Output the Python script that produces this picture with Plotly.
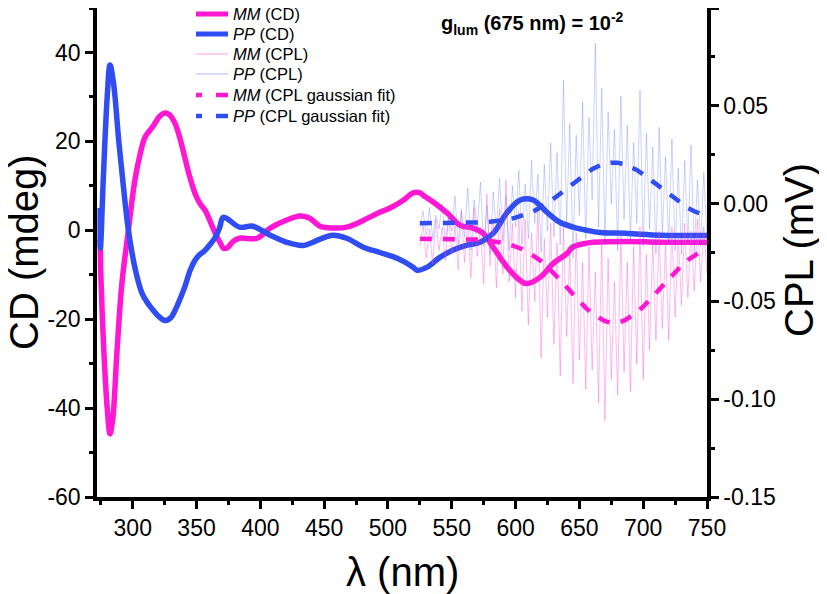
import numpy as np
import plotly.graph_objects as go

# ---------------- data ----------------
# CD spectra (mdeg) vs wavelength (nm)
wl_pp_cd = [274.5, 274.7, 277, 280, 282.2, 285, 289, 293, 296.3, 301.7, 307.3, 312, 316, 320,
            325.3, 330, 333.2, 337, 340.7, 345, 348.7, 352, 356.7, 360.5, 364.7, 368, 370.7, 374,
            383.7, 394.3, 407.7, 420.7, 433.5, 446.7, 456.7, 467.7, 480.7, 493.7, 507.2, 519.7,
            522.7, 530.7, 540.7, 550.7, 561.3, 572.2, 582.4, 593.4, 603.7, 613.7, 624.7, 634.7,
            645.1, 655.7, 666.2, 687.4, 713.3, 750]
cd_pp = [5, -4, 12, 30, 37.2, 33, 20.3, 9, 0.7, -8.4, -14.2, -16.5, -18, -19.3,
         -20.3, -19.6, -18, -15.5, -12.8, -9, -6.8, -5.6, -4.5, -3.2, -1.6, 0.5, 2.9, 2.6,
         0.7, 0.9, -1.1, -2.7, -3.4, -2, -1.1, -1.8, -3.8, -5, -6.3, -8.3,
         -9, -8.3, -6.1, -4.5, -3.4, -2.7, -0.7, 4, 6.8, 6.8, 4, 1.8,
         0.7, 0, -0.5, -0.7, -1.1, -1.2]

wl_mm_cd = [274.5, 275, 277.5, 280, 282.2, 284.5, 287.5, 291.5, 296.3, 301.7, 305.7, 309.7, 315.7,
            320.7, 325.3, 328.7, 333.2, 336.7, 340.7, 344.7, 348.7, 352.7, 356.7, 360.7, 364.7,
            368.7, 371, 374, 378.7, 383.7, 397.4, 407.7, 420.7, 431.1, 438.7, 446.7, 456.7, 467.7,
            477.7, 491.5, 501.7, 512.3, 519.7, 525.2, 527.5, 535.7, 546.7, 556.7, 566.7, 574.7,
            582.4, 593.4, 603.7, 608.7, 619.2, 629.7, 640.4, 644.7, 655.7, 660.7, 687.4, 713.3, 750]
cd_mm = [-2, -10, -28, -40, -45.8, -42, -28, -12, -0.7, 11.3, 17, 21, 23.3,
         25.5, 26.4, 26, 24, 21, 16.5, 12, 8.4, 6, 4.5, 2, -0.7,
         -2.9, -4, -4, -2.5, -1.8, -1.8, 0.5, 2.3, 3.2, 2.7, 0.9, 0.5, 0.7,
         1.8, 3.8, 5, 6.8, 8.4, 8.4, 7.9, 6.3, 3.8, 1.1, 0.5, -0.7,
         -3.8, -8.3, -11.3, -12, -10.6, -7.4, -5.2, -3.8, -2.9, -2.7, -2.5, -2.7, -2.7]

# CPL raw spectra (mV), 525-750 nm every 2.5 nm
wl_cpl = np.arange(525, 750.1, 2.5)
cpl_pp = [-0.012, -0.004, -0.016, -0.002, -0.018, -0.006, -0.013, 0.000, -0.019, -0.007,
          -0.014, 0.004, -0.021, -0.003, -0.017, 0.008, -0.024, 0.002, -0.013, 0.011,
          -0.022, -0.001, -0.026, 0.006, -0.015, 0.013, -0.019, 0.004, -0.024, 0.009,
          -0.012, 0.017, -0.021, 0.010, -0.018, 0.022, -0.010, 0.015, -0.025, 0.020,
          -0.014, 0.031, -0.017, 0.026, -0.021, 0.063, -0.010, 0.041, -0.028, 0.035,
          -0.006, 0.052, -0.018, 0.044, 0.002, 0.082, -0.012, 0.059, -0.020, 0.047,
          0.000, 0.038, -0.024, 0.055, -0.008, 0.040, -0.019, 0.031, -0.010, 0.058,
          -0.022, 0.036, -0.013, 0.029, -0.026, 0.039, -0.016, 0.024, -0.021, 0.033,
          -0.024, 0.018, -0.026, 0.022, -0.020, 0.030, -0.025, 0.012, -0.022, 0.016,
          -0.018]
cpl_mm = [-0.022, -0.010, -0.028, -0.013, -0.031, -0.008, -0.024, -0.012, -0.029, -0.006,
          -0.026, -0.011, -0.034, -0.004, -0.030, -0.009, -0.038, -0.002, -0.027, -0.012,
          -0.041, 0.005, -0.032, -0.008, -0.043, -0.003, -0.036, 0.012, -0.040, -0.010,
          -0.048, -0.004, -0.055, -0.008, -0.062, -0.015, -0.050, -0.002, -0.079, -0.018,
          -0.058, -0.010, -0.072, -0.020, -0.088, -0.012, -0.068, -0.025, -0.092, -0.015,
          -0.080, -0.030, -0.095, -0.022, -0.085, -0.035, -0.102, -0.018, -0.111, -0.028,
          -0.090, -0.040, -0.098, -0.016, -0.086, -0.030, -0.096, -0.022, -0.082, -0.012,
          -0.090, -0.026, -0.075, -0.018, -0.070, -0.014, -0.064, -0.020, -0.070, -0.012,
          -0.058, -0.016, -0.052, -0.010, -0.048, -0.014, -0.045, -0.008, -0.040, -0.012,
          -0.036]

# CPL gaussian fits (mV), 525-750 nm every 5 nm
wl_fit = np.arange(525, 750.1, 5)
fit_pp = [-0.0100, -0.0100, -0.0100, -0.0100, -0.0100, -0.0100, -0.0099, -0.0099, -0.0098, -0.0097,
          -0.0096, -0.0093, -0.0090, -0.0086, -0.0080, -0.0072, -0.0062, -0.0050, -0.0036, -0.0018,
          0.0003, 0.0026, 0.0051, 0.0077, 0.0104, 0.0130, 0.0155, 0.0176, 0.0192, 0.0204,
          0.0209, 0.0209, 0.0202, 0.0189, 0.0172, 0.0150, 0.0125, 0.0099, 0.0072, 0.0046,
          0.0021, -0.0001, -0.0022, -0.0039, -0.0053, -0.0065]
fit_mm = [-0.0180, -0.0180, -0.0180, -0.0180, -0.0180, -0.0181, -0.0181, -0.0182, -0.0183, -0.0184,
          -0.0186, -0.0189, -0.0194, -0.0200, -0.0208, -0.0218, -0.0232, -0.0249, -0.0269, -0.0294,
          -0.0323, -0.0355, -0.0389, -0.0426, -0.0463, -0.0500, -0.0533, -0.0562, -0.0585, -0.0601,
          -0.0609, -0.0608, -0.0599, -0.0581, -0.0557, -0.0527, -0.0492, -0.0456, -0.0419, -0.0382,
          -0.0348, -0.0317, -0.0289, -0.0265, -0.0245, -0.0229]

# axis ticks
x_ticks = [300, 350, 400, 450, 500, 550, 600, 650, 700, 750]
cd_ticks = [-60, -40, -20, 0, 20, 40]
cd_ticktext = ["-60", "-40", "-20", "0", "20", "40"]
cpl_ticks = [-0.15, -0.10, -0.05, 0.0, 0.05, 0.10]
cpl_ticktext = ["-0.15", "-0.10", "-0.05", "0.00", "0.05", "0.10"]

legend_labels = ["<i>MM</i> (CD)", "<i>PP</i> (CD)", "<i>MM</i> (CPL)", "<i>PP</i> (CPL)",
                 "<i>MM</i> (CPL gaussian fit)", "<i>PP</i> (CPL gaussian fit)"]

# ---------------- styles ----------------
MAG = "#FF17D3"
BLUE = "#2F4DF2"
MAG_L = "rgba(255,60,215,0.45)"
BLUE_L = "rgba(70,90,240,0.35)"
FONT = "Liberation Sans, Arial, sans-serif"

fig = go.Figure()
fig.add_trace(go.Scatter(x=wl_cpl, y=cpl_mm, yaxis="y2", mode="lines",
                         line=dict(color=MAG_L, width=0.8), showlegend=False))
fig.add_trace(go.Scatter(x=wl_cpl, y=cpl_pp, yaxis="y2", mode="lines",
                         line=dict(color=BLUE_L, width=0.8), showlegend=False))
fig.add_trace(go.Scatter(x=wl_mm_cd, y=cd_mm, mode="lines", line_shape="spline",
                         line=dict(color=MAG, width=5.5), showlegend=False))
fig.add_trace(go.Scatter(x=wl_pp_cd, y=cd_pp, mode="lines", line_shape="spline",
                         line=dict(color=BLUE, width=5.5), showlegend=False))
fig.add_trace(go.Scatter(x=wl_fit, y=fit_mm, yaxis="y2", mode="lines",
                         line=dict(color=MAG, width=4.5, dash="12px,11px"), showlegend=False))
fig.add_trace(go.Scatter(x=wl_fit, y=fit_pp, yaxis="y2", mode="lines",
                         line=dict(color=BLUE, width=4.5, dash="12px,11px"), showlegend=False))

# page body has an 8px margin: figure pixel = screen pixel - 8
OFF = 8
W, H = 827 - OFF, 594 - OFF
ML, MR, MT, MB = 97 - OFF, 120, 8 - OFF, 97
pw, ph = W - ML - MR, H - MT - MB
def px(xs):
    return (xs - OFF - ML) / pw
def py(ys):
    return 1 - (ys - OFF - MT) / ph

leg_rows = [14, 34, 54, 74, 95, 116]
leg_styles = [(MAG, 5, "solid"), (BLUE, 5, "solid"), ("rgba(255,60,215,0.5)", 1, "solid"),
              ("rgba(70,90,240,0.45)", 1, "solid"), (MAG, 4.5, "dash"), (BLUE, 4.5, "dash")]
for yrow, (col, w, st), lab in zip(leg_rows, leg_styles, legend_labels):
    if st == "solid":
        fig.add_shape(type="line", xref="paper", yref="paper", x0=px(196), x1=px(228),
                      y0=py(yrow), y1=py(yrow), line=dict(color=col, width=w))
    else:
        for a, b in [(196, 202), (216, 228)]:
            fig.add_shape(type="line", xref="paper", yref="paper", x0=px(a), x1=px(b),
                          y0=py(yrow), y1=py(yrow), line=dict(color=col, width=w))
    fig.add_annotation(xref="paper", yref="paper", x=px(231), y=py(yrow), text=lab,
                       showarrow=False, xanchor="left", yanchor="middle",
                       font=dict(family=FONT, size=16.5, color="black"))

fig.add_annotation(xref="paper", yref="paper", x=px(532), y=py(24),
                   text="<b>g<sub>lum</sub> (675 nm) = 10<sup>-2</sup></b>",
                   showarrow=False, xanchor="center", yanchor="middle",
                   font=dict(family=FONT, size=20, color="black"))

# axis titles placed as annotations (screen positions)
title_font = dict(family=FONT, size=40, color="black")
fig.add_annotation(xref="paper", yref="paper", x=px(24), y=py(252), text="CD (mdeg)",
                   textangle=-90, showarrow=False, xanchor="center", yanchor="middle",
                   font=title_font)
fig.add_annotation(xref="paper", yref="paper", x=px(799), y=py(250), text="CPL (mV)",
                   textangle=-90, showarrow=False, xanchor="center", yanchor="middle",
                   font=title_font)
fig.add_annotation(xref="paper", yref="paper", x=px(402), y=py(572), text="λ (nm)",
                   showarrow=False, xanchor="center", yanchor="middle", font=title_font)

axis_common = dict(showgrid=False, zeroline=False, showline=True, linecolor="black",
                   linewidth=3.5, ticks="outside", ticklen=8, tickwidth=3, tickcolor="black",
                   automargin=False,
                   tickfont=dict(family=FONT, size=23, color="black"))

fig.update_layout(
    width=W, height=H,
    margin=dict(l=ML, r=MR, t=MT, b=MB),
    paper_bgcolor="white", plot_bgcolor="white",
    font=dict(family=FONT, color="black"),
    xaxis=dict(range=[272, 750], tickvals=x_ticks,
               minor=dict(tickvals=[275, 325, 375, 425, 475, 525, 575, 625, 675, 725],
                          ticks="outside", ticklen=4, tickwidth=3, tickcolor="black"),
               **axis_common),
    yaxis=dict(range=[-60, 50], tickvals=cd_ticks, ticktext=cd_ticktext,
               minor=dict(tickvals=[-50, -30, -10, 10, 30, 50], ticks="outside", ticklen=4,
                          tickwidth=3, tickcolor="black"),
               **axis_common),
    yaxis2=dict(range=[-0.15, 0.10], overlaying="y", side="right", anchor="x",
                tickvals=cpl_ticks, ticktext=cpl_ticktext,
                minor=dict(tickvals=[-0.125, -0.075, -0.025, 0.025, 0.075], ticks="outside",
                           ticklen=4, tickwidth=3, tickcolor="black"),
                **axis_common),
)

fig.write_html("out.html")
